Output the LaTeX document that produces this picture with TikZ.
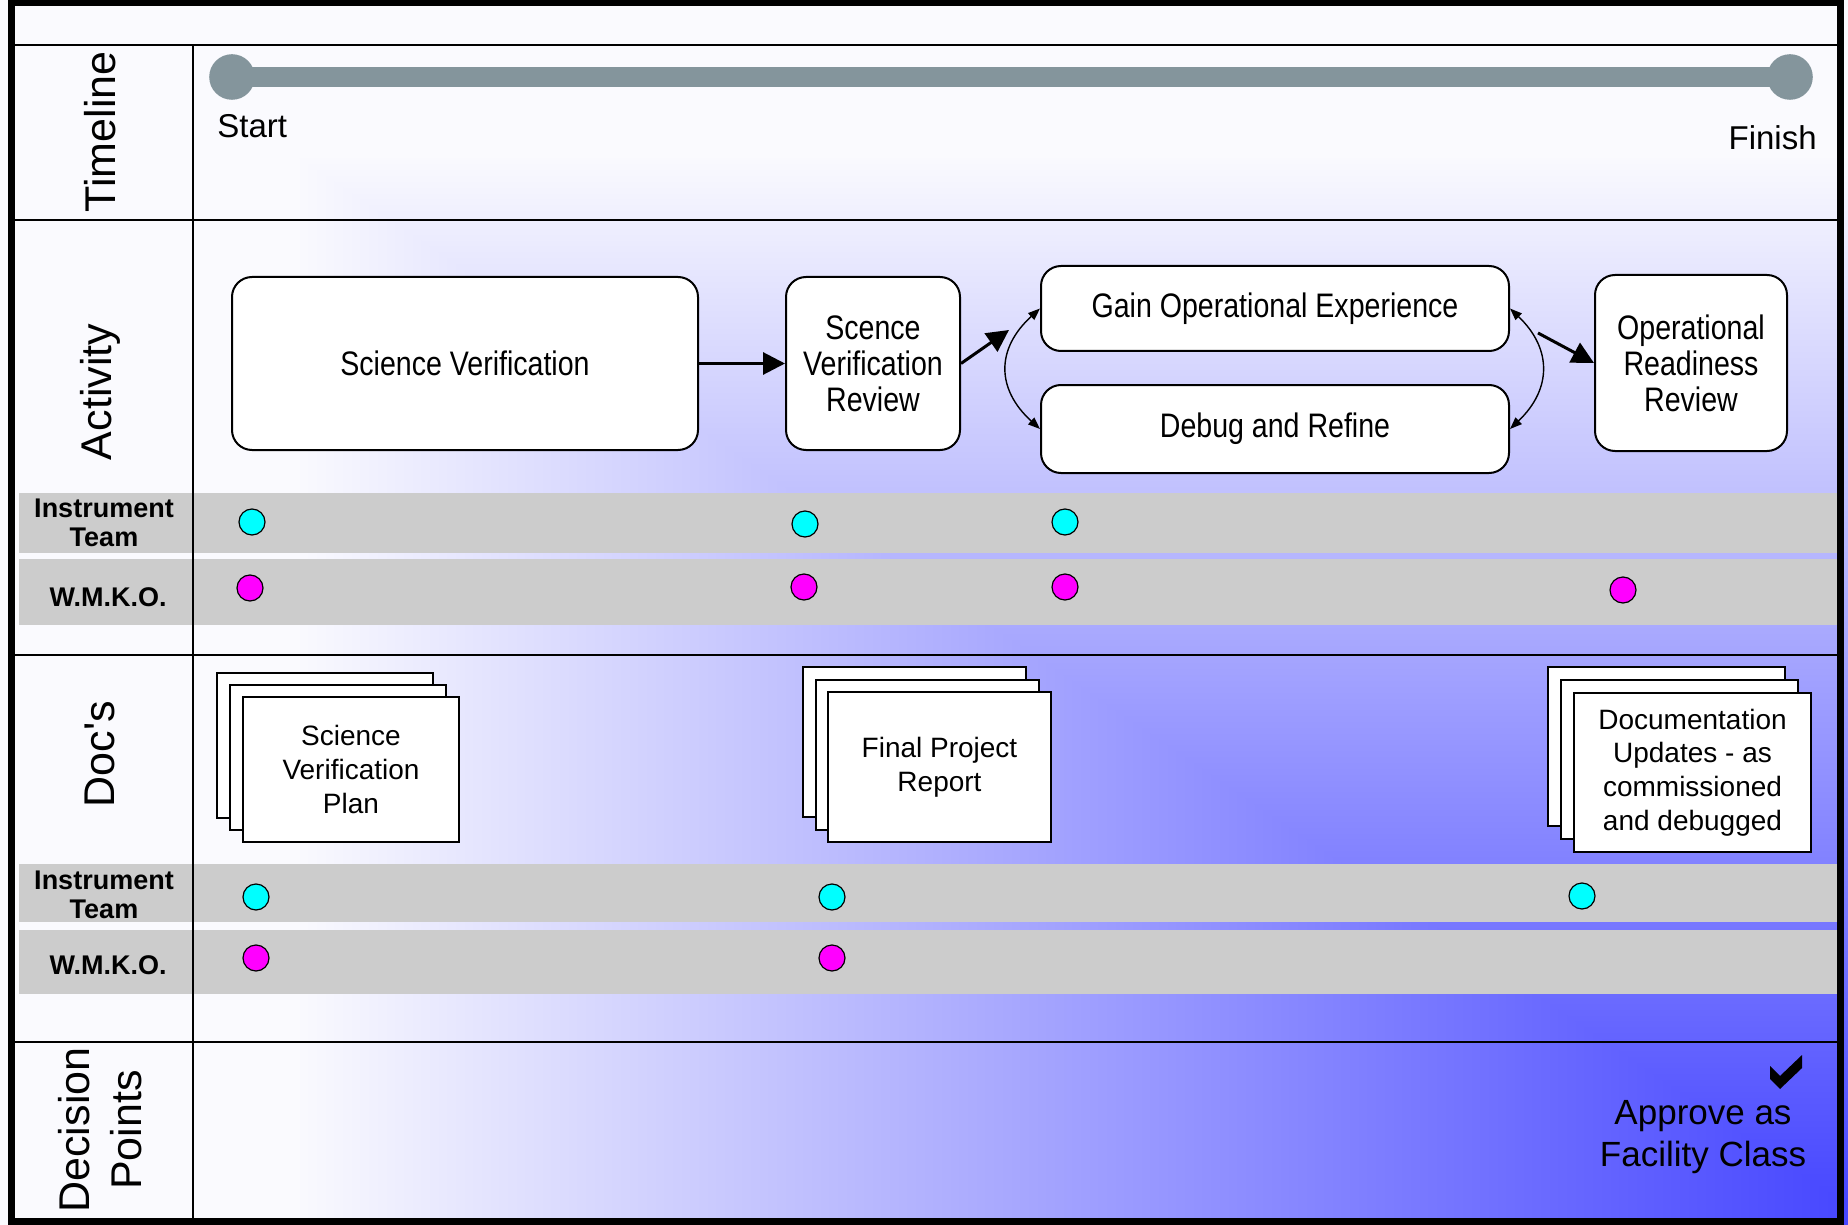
\documentclass[tikz,border=0pt]{standalone}
\usepackage{fontspec}
\setmainfont{Liberation Sans}
\newfontfamily\narrowsans{Liberation Sans}[FakeStretch=0.84]
\newfontfamily\plainsans{Liberation Sans}
\usetikzlibrary{arrows.meta}

\definecolor{bgpale}{RGB}{250,250,254}
\definecolor{bgblue}{RGB}{72,72,255}
\definecolor{bandgray}{RGB}{204,204,204}
\definecolor{railgray}{RGB}{132,149,156}
\definecolor{teamcyan}{RGB}{0,255,255}
\definecolor{obsmagenta}{RGB}{255,0,255}

\begin{document}
\begin{tikzpicture}[x=0.5pt,y=-0.5pt,
  activity/.style={draw, line width=1pt, fill=white, rounded corners=10pt,
    align=center, inner sep=0pt, font=\narrowsans\fontsize{17}{18}\selectfont},
  sheet/.style={draw, line width=1pt, fill=white, inner sep=0pt},
  doctext/.style={align=center, font=\fontsize{14}{16.8}\selectfont},
  bandlabel/.style={align=center, inner sep=0pt, font=\bfseries\fontsize{13.5}{14.5}\selectfont},
  rowlabel/.style={rotate=90, align=center, inner sep=0pt, font=\fontsize{21.5}{26}\selectfont},
  dot/.style={circle, draw, line width=0.6pt, minimum size=13pt, inner sep=0pt},
  teamdot/.style={dot, fill=teamcyan},
  obsdot/.style={dot, fill=obsmagenta},
  railend/.style={circle, fill=railgray, minimum size=22.8pt, inner sep=0pt},
  bigarrow/.style={line width=1.5pt, -{Triangle[length=11pt,width=11pt]}},
  looparrow/.style={line width=0.7pt,
    {Triangle[length=6pt,width=4.5pt]}-{Triangle[length=6pt,width=4.5pt]}},
  gridline/.style={line width=1.1pt}]

\useasboundingbox (0,0) rectangle (1848,1225);

% background: corner gradient, darkest towards the lower right
\fill[bgpale] (0,0) rectangle (296,1225);
\shade[left color=bgpale, right color=bgblue] (295,0) rectangle (1840,1225);
\fill[bgblue] (1839,0) rectangle (1900,1225);
\begin{scope}
  \clip (66,0) -- (1877,1225) -- (1900,1225) -- (1900,0) -- cycle;
  \fill[bgpale] (0,0) rectangle (1900,156);
  \shade[top color=bgpale, bottom color=bgblue] (0,155) rectangle (1900,1200);
  \fill[bgblue] (0,1199) rectangle (1900,1225);
\end{scope}

% participant bands
\fill[bandgray] (19,493) rectangle (1838,553);
\fill[bandgray] (19,559) rectangle (1838,625);
\fill[bandgray] (19,864) rectangle (1838,922);
\fill[bandgray] (19,930) rectangle (1838,994);

% lane grid and frame
\draw[gridline] (14,45) -- (1839,45);
\draw[gridline] (14,220) -- (1839,220);
\draw[gridline] (14,655) -- (1839,655);
\draw[gridline] (14,1042) -- (1839,1042);
\draw[gridline] (193,45) -- (193,1220);
\draw[line width=3.3pt] (11.5,2.5) rectangle (1840.5,1221.5);

% lane titles
\node[rowlabel] (lbltime) at (100,132) {Timeline};
\node[rowlabel] (lblact) at (100,392) {Activity};
\node[rowlabel] (lbldocs) at (100,754) {Doc{\plainsans'}s};
\node[rowlabel] (lbldec) at (100,1130) {Decision\\Points};

\node[bandlabel] (teamact) at (104,523) {Instrument\\Team};
\node[bandlabel] (obsact) at (108,597) {W.M.K.O.};
\node[bandlabel] (teamdoc) at (104,895) {Instrument\\Team};
\node[bandlabel] (obsdoc) at (108,965) {W.M.K.O.};

% timeline rail
\node[railend] (tlstart) at (232,77) {};
\node[railend] (tlend) at (1790,77) {};
\draw[railgray, line width=10.3pt] (tlstart.center) -- (tlend.center);
\node[anchor=base west, inner sep=0pt, font=\fontsize{16.5}{20}\selectfont] (startlbl) at (217,138) {Start};
\node[anchor=base east, inner sep=0pt, font=\fontsize{16.5}{20}\selectfont] (finishlbl) at (1817,150) {Finish};

% activities
\node[activity, minimum width=233pt, minimum height=86.5pt] (sv) at (465,363.5) {Science Verification};
\node[activity, minimum width=87pt, minimum height=86.5pt] (svr) at (873,363.5) {Scence\\Verification\\Review};
\node[activity, minimum width=234pt, minimum height=42.5pt] (gain) at (1275,308.5) {Gain Operational Experience};
\node[activity, minimum width=234pt, minimum height=44pt] (debug) at (1275,429) {Debug and Refine};
\node[activity, minimum width=96pt, minimum height=88pt] (orr) at (1691,363) {Operational\\Readiness\\Review};

\coordinate (looptip) at (1009,330);
\coordinate (looptail) at (1538,333);

\draw[bigarrow] (sv) -- (svr);
\draw[bigarrow] (svr.east) -- (looptip);
\draw[bigarrow] (looptail) -- (orr.west);
\draw[looparrow] (gain.west) .. controls +(-44,40) and +(-44,-40) .. (debug.west);
\draw[looparrow] (gain.east) .. controls +(42,40) and +(42,-40) .. (debug.east);

% activity participation
\node[teamdot] (ta1) at (252,522) {};
\node[teamdot] (ta2) at (805,524) {};
\node[teamdot] (ta3) at (1065,522) {};
\node[obsdot] (oa1) at (250,588) {};
\node[obsdot] (oa2) at (804,587) {};
\node[obsdot] (oa3) at (1065,587) {};
\node[obsdot] (oa4) at (1623,590) {};

% document stacks
\node[sheet, minimum width=108pt, minimum height=72.5pt] (svpback) at (325,745.5) {};
\node[sheet, minimum width=108pt, minimum height=72.5pt] (svpmid) at (338,757.5) {};
\node[sheet, doctext, minimum width=108pt, minimum height=72.5pt] (svp) at (351,769.5) {Science\\Verification\\Plan};

\node[sheet, minimum width=111.5pt, minimum height=75pt] (fprback) at (914.5,742) {};
\node[sheet, minimum width=111.5pt, minimum height=75pt] (fprmid) at (927,754.5) {};
\node[sheet, doctext, minimum width=111.5pt, minimum height=75pt] (fpr) at (939.5,767) {Final Project\\Report};

\node[sheet, minimum width=118.5pt, minimum height=79.5pt] (docback) at (1666.5,746.5) {};
\node[sheet, minimum width=118.5pt, minimum height=79.5pt] (docmid) at (1679.5,759.5) {};
\node[sheet, doctext, minimum width=118.5pt, minimum height=79.5pt] (docupd) at (1692.5,772.5) {Documentation\\Updates - as\\commissioned\\and debugged};

% document participation
\node[teamdot] (td1) at (256,897) {};
\node[teamdot] (td2) at (832,897) {};
\node[teamdot] (td3) at (1582,896) {};
\node[obsdot] (od1) at (256,958) {};
\node[obsdot] (od2) at (832,958) {};

% decision point
\fill (1770,1066) -- (1780,1076) -- (1802,1055) -- (1802,1068) -- (1780,1089) -- (1770,1079) -- cycle;
\node[align=center, inner sep=0pt, font=\fontsize{17.5}{21}\selectfont] (approve) at (1703,1137) {Approve as\\Facility Class};

\end{tikzpicture}
\end{document}
